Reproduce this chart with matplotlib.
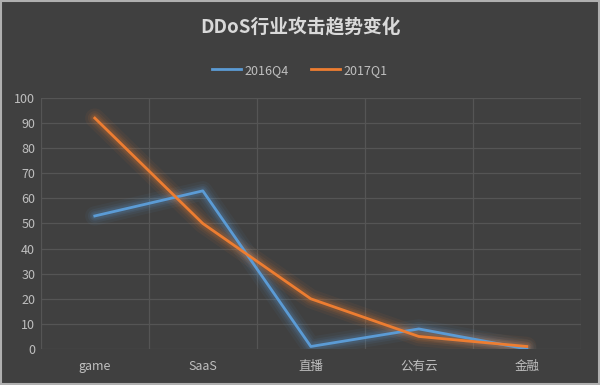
import matplotlib.pyplot as plt
import numpy as np

plt.rcParams['font.family'] = ['Noto Sans CJK SC', 'DejaVu Sans']

categories = ['game', 'SaaS', '直播', '公有云', '金融']
q4_2016 = [53, 63, 1, 8, 0]
q1_2017 = [92, 50, 20, 5, 1]
yticks = list(range(0, 101, 10))

BG = '#404040'
GRID = '#555555'
TEXT = '#bfbfbf'
BLUE = '#5B9BD5'
ORANGE = '#ED7D31'

fig = plt.figure(figsize=(6, 3.85), dpi=100, facecolor=BG)
ax = fig.add_axes([0.068, 0.0935, 0.9, 0.652])
ax.set_facecolor(BG)

x = np.arange(len(categories))


def glow_line(xs, ys, color, label):
    # soft glow: a few wide, faint strokes under the main line
    for lw, a in [(14, 0.06), (10, 0.08), (7, 0.10), (5, 0.12)]:
        ax.plot(xs, ys, color=color, linewidth=lw, alpha=a,
                solid_capstyle='round', solid_joinstyle='round', zorder=2)
    ax.plot(xs, ys, color=color, linewidth=2, label=label, zorder=3)


glow_line(x, q4_2016, BLUE, '2016Q4')
glow_line(x, q1_2017, ORANGE, '2017Q1')

ax.set_xlim(-0.5, len(categories) - 0.5)
ax.set_ylim(0, 100)
ax.set_yticks(yticks)
ax.set_xticks(x)
ax.set_xticklabels(categories)
ax.set_xticks(np.arange(-0.5, len(categories)), minor=True)
ax.grid(True, axis='y', color=GRID, linewidth=0.9)
ax.grid(True, axis='x', which='minor', color=GRID, linewidth=0.9)
ax.tick_params(axis='both', which='both', length=0, colors=TEXT, labelsize=9)
ax.tick_params(axis='x', pad=8)
ax.tick_params(axis='y', pad=4)
for s in ax.spines.values():
    s.set_visible(False)

fig.text(0.5, 0.93, 'DDoS行业攻击趋势变化', ha='center', va='center',
         color='#d9d9d9', fontsize=13.5, fontweight='bold')
fig.legend(loc='center', bbox_to_anchor=(0.5, 0.818), ncol=2, frameon=False,
           fontsize=9, labelcolor=TEXT, handlelength=2.3, handletextpad=0.3,
           columnspacing=1.8)

# thin light frame around the whole picture
fig.patches.append(plt.Rectangle((0.002, 0.003), 0.996, 0.994, transform=fig.transFigure,
                                 fill=False, edgecolor='#b0b0b0', linewidth=1.5))

fig.savefig('out.png', dpi=100, facecolor=BG)
